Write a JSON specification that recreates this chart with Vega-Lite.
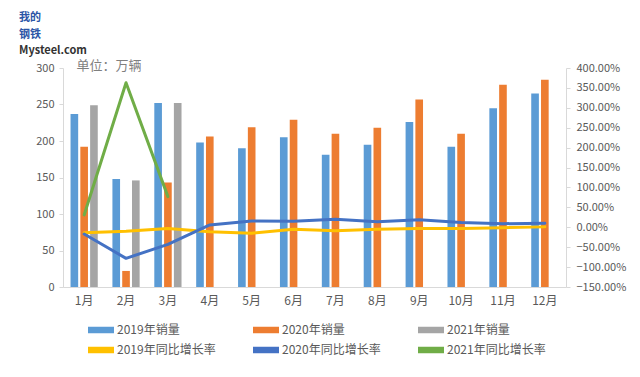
{
  "$schema": "https://vega.github.io/schema/vega-lite/v6.json",
  "width": 503,
  "height": 219,
  "autosize": {"type": "none"},
  "padding": {"left": 63, "top": 68, "right": 74, "bottom": 90},
  "background": "white",
  "config": {
    "view": {"stroke": null},
    "font": "Noto Sans CJK SC",
    "axis": {"labelFont": "Noto Sans CJK SC", "labelColor": "#595959", "domainColor": "#D9D9D9", "tickColor": "#D9D9D9", "grid": false, "titleFont": "Noto Sans CJK SC"},
    "legend": {"labelFont": "Noto Sans CJK SC"},
    "title": {"font": "Noto Sans CJK SC"}
  },
  "title": {
    "text": ["我的", "钢铁"],
    "subtitle": "Mysteel.com",
    "anchor": "start",
    "frame": "group",
    "dx": -44,
    "offset": 3,
    "fontSize": 11,
    "lineHeight": 17,
    "color": "#2B55A6",
    "fontWeight": "bold",
    "subtitleFontSize": 11,
    "subtitleFontWeight": "bold",
    "subtitleColor": "#333333",
    "subtitlePadding": 5
  },
  "datasets": {
    "bars": [
      {"month": "1月", "series": "2019年销量", "value": 237},
      {"month": "2月", "series": "2019年销量", "value": 148},
      {"month": "3月", "series": "2019年销量", "value": 252},
      {"month": "4月", "series": "2019年销量", "value": 198},
      {"month": "5月", "series": "2019年销量", "value": 190},
      {"month": "6月", "series": "2019年销量", "value": 205},
      {"month": "7月", "series": "2019年销量", "value": 181},
      {"month": "8月", "series": "2019年销量", "value": 195},
      {"month": "9月", "series": "2019年销量", "value": 226},
      {"month": "10月", "series": "2019年销量", "value": 192},
      {"month": "11月", "series": "2019年销量", "value": 245},
      {"month": "12月", "series": "2019年销量", "value": 265},
      {"month": "1月", "series": "2020年销量", "value": 192},
      {"month": "2月", "series": "2020年销量", "value": 22},
      {"month": "3月", "series": "2020年销量", "value": 143},
      {"month": "4月", "series": "2020年销量", "value": 206},
      {"month": "5月", "series": "2020年销量", "value": 219},
      {"month": "6月", "series": "2020年销量", "value": 229},
      {"month": "7月", "series": "2020年销量", "value": 210},
      {"month": "8月", "series": "2020年销量", "value": 218},
      {"month": "9月", "series": "2020年销量", "value": 257},
      {"month": "10月", "series": "2020年销量", "value": 210},
      {"month": "11月", "series": "2020年销量", "value": 277},
      {"month": "12月", "series": "2020年销量", "value": 284},
      {"month": "1月", "series": "2021年销量", "value": 249},
      {"month": "2月", "series": "2021年销量", "value": 146},
      {"month": "3月", "series": "2021年销量", "value": 252}
    ],
    "lines": [
      {"month": "1月", "series": "2019年同比增长率", "rate": -14},
      {"month": "2月", "series": "2019年同比增长率", "rate": -10},
      {"month": "3月", "series": "2019年同比增长率", "rate": -3},
      {"month": "4月", "series": "2019年同比增长率", "rate": -11},
      {"month": "5月", "series": "2019年同比增长率", "rate": -15},
      {"month": "6月", "series": "2019年同比增长率", "rate": -5},
      {"month": "7月", "series": "2019年同比增长率", "rate": -9},
      {"month": "8月", "series": "2019年同比增长率", "rate": -5},
      {"month": "9月", "series": "2019年同比增长率", "rate": -3},
      {"month": "10月", "series": "2019年同比增长率", "rate": -3},
      {"month": "11月", "series": "2019年同比增长率", "rate": -1},
      {"month": "12月", "series": "2019年同比增长率", "rate": 1},
      {"month": "1月", "series": "2020年同比增长率", "rate": -17},
      {"month": "2月", "series": "2020年同比增长率", "rate": -78},
      {"month": "3月", "series": "2020年同比增长率", "rate": -43},
      {"month": "4月", "series": "2020年同比增长率", "rate": 6},
      {"month": "5月", "series": "2020年同比增长率", "rate": 16},
      {"month": "6月", "series": "2020年同比增长率", "rate": 15},
      {"month": "7月", "series": "2020年同比增长率", "rate": 20},
      {"month": "8月", "series": "2020年同比增长率", "rate": 14},
      {"month": "9月", "series": "2020年同比增长率", "rate": 19},
      {"month": "10月", "series": "2020年同比增长率", "rate": 12},
      {"month": "11月", "series": "2020年同比增长率", "rate": 9},
      {"month": "12月", "series": "2020年同比增长率", "rate": 10},
      {"month": "1月", "series": "2021年同比增长率", "rate": 31},
      {"month": "2月", "series": "2021年同比增长率", "rate": 363},
      {"month": "3月", "series": "2021年同比增长率", "rate": 77}
    ]
  },
  "layer": [
    {
      "data": {"name": "bars"},
      "mark": {"type": "bar"},
      "encoding": {
        "x": {
          "field": "month", "type": "nominal",
          "sort": ["1月","2月","3月","4月","5月","6月","7月","8月","9月","10月","11月","12月"],
          "scale": {"paddingInner": 0.35, "paddingOuter": 0.18},
          "axis": {"title": null, "labelAngle": 0, "labelFontSize": 12, "ticks": false, "labelPadding": 8, "domainColor": "#D9D9D9"}
        },
        "xOffset": {
          "field": "series", "type": "nominal",
          "sort": ["2019年销量", "2020年销量", "2021年销量"],
          "scale": {"paddingInner": 0.22}
        },
        "y": {
          "field": "value", "type": "quantitative",
          "scale": {"domain": [0, 300], "nice": false},
          "axis": {
            "values": [0, 50, 100, 150, 200, 250, 300],
            "title": "单位：万辆", "titleAngle": 0, "titleAlign": "left", "titleBaseline": "middle",
            "titleX": 13, "titleY": -3, "titleFontSize": 13, "titleFontWeight": "normal", "titleColor": "#7F7F7F",
            "labelFontSize": 11, "tickSize": 4, "labelPadding": 5
          }
        },
        "color": {
          "field": "series", "type": "nominal",
          "scale": {
            "domain": ["2019年销量", "2020年销量", "2021年销量", "2019年同比增长率", "2020年同比增长率", "2021年同比增长率"],
            "range": ["#5B9BD5", "#ED7D31", "#A5A5A5", "#FFC000", "#4472C4", "#70AD47"]
          },
          "legend": {
            "title": null, "orient": "none", "legendX": 25, "legendY": 249,
            "direction": "horizontal", "columns": 3,
            "symbolType": "M-1,-0.25H1V0.25H-1Z", "symbolSize": 676,
            "symbolStrokeWidth": 0, "symbolOpacity": 1,
            "labelFontSize": 12, "labelColor": "#595959", "labelOffset": 3,
            "columnPadding": 37, "rowPadding": 1, "labelLimit": 200
          }
        }
      }
    },
    {
      "data": {"name": "lines"},
      "mark": {"type": "line", "strokeWidth": 3, "strokeJoin": "round", "strokeCap": "round"},
      "encoding": {
        "x": {
          "field": "month", "type": "nominal",
          "sort": ["1月","2月","3月","4月","5月","6月","7月","8月","9月","10月","11月","12月"]
        },
        "y": {
          "field": "rate", "type": "quantitative",
          "scale": {"domain": [-150, 400], "nice": false},
          "axis": {
            "orient": "right", "title": null,
            "values": [-150, -100, -50, 0, 50, 100, 150, 200, 250, 300, 350, 400],
            "labelExpr": "format(datum.value, '.2f') + '%'",
            "labelFontSize": 11, "tickSize": 4, "labelPadding": 6
          }
        },
        "color": {"field": "series", "type": "nominal"}
      }
    }
  ],
  "resolve": {"scale": {"y": "independent"}}
}
